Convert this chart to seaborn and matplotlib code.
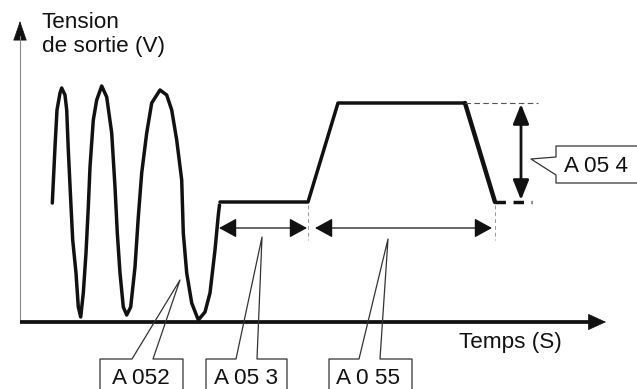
import matplotlib
matplotlib.use("Agg")
import matplotlib.pyplot as plt
import seaborn as sns
import pandas as pd
from matplotlib.patches import FancyArrowPatch

# ---- data (diagram coordinates, pixels, y downwards) ----
wave_x = [52.3, 55, 57, 60, 61.7, 65, 66.7, 68.3, 70.7, 72.7, 76, 78.3, 80.7,
          83.3, 86, 88.3, 90, 93.3, 96.7, 101.7, 106.7, 111.7, 115, 117.3, 120,
          123.3, 126.7, 130.7, 135, 138.3, 141.7, 146.7, 151.7, 160, 166.7,
          171.7, 176.7, 181.7, 183.3, 186.7, 191.7, 198.3, 205, 210, 215, 218.3, 219.5]
wave_y = [203, 147, 110, 93, 88, 95, 110, 150, 200, 240, 273, 307, 317,
          293, 253, 207, 167, 120, 100, 86, 97, 133, 187, 233, 273,
          307, 315, 307, 267, 217, 173, 133, 103, 90, 95,
          110, 140, 180, 233, 273, 303, 320, 312, 293, 250, 215, 205]
profile_x = [220, 308, 338, 465]
profile_y = [202, 202, 103, 103]
fall_x = [465, 495]
fall_y = [103, 202]

labels = ["A 052", "A 05 3", "A 0 55", "A 05 4"]
axis_y_label = ["Tension", "de sortie (V)"]
axis_x_label = "Temps (S)"

sns.set_theme(style="white")
plt.rcParams['font.family'] = ['Liberation Sans', 'DejaVu Sans']

fig = plt.figure(figsize=(6.37, 3.89), dpi=100)
ax = fig.add_axes([0, 0, 1, 1])
ax.set_xlim(0, 637)
ax.set_ylim(389, 0)
ax.axis('off')

K = '#111111'
G = '#333333'

# waveform
sns.lineplot(x=wave_x, y=wave_y, sort=False, estimator=None, color=K, lw=2.5, ax=ax)
sns.lineplot(x=profile_x, y=profile_y, sort=False, estimator=None, color=K, lw=2.5, ax=ax)
sns.lineplot(x=fall_x, y=fall_y, sort=False, estimator=None, color=K, lw=3.2, ax=ax)

# dashed extensions
ax.plot([465, 538], [103, 103], color='#555555', lw=0.8, ls=(0, (5, 3)))
ax.plot([495, 532], [202, 202], color=K, lw=2.5, ls=(0, (3.0, 2.2)))
ax.plot([308, 308], [205, 240], color='#999999', lw=0.7, ls=(0, (4, 3)))
ax.plot([495, 495], [205, 240], color='#999999', lw=0.7, ls=(0, (4, 3)))

# axes
ax.plot([20, 20], [322, 36], color='#888888', lw=0.8)
ax.add_patch(FancyArrowPatch((20, 40), (20, 21), arrowstyle='-|>,head_length=13,head_width=4.5',
                             mutation_scale=1, color=K, lw=0.5, shrinkA=0, shrinkB=0))
ax.plot([20, 592], [322, 322], color=K, lw=2.7, solid_capstyle='butt')
ax.add_patch(FancyArrowPatch((585, 322), (606, 322), arrowstyle='-|>,head_length=12,head_width=5.5',
                             mutation_scale=1, color=K, lw=0.5, shrinkA=0, shrinkB=0))

# double arrows
def darrow(p0, p1, lw, hl, hw):
    ax.add_patch(FancyArrowPatch(p0, p1, arrowstyle=f'<|-|>,head_length={hl},head_width={hw}',
                                 mutation_scale=1, color=K, lw=lw, shrinkA=0, shrinkB=0))

darrow((219, 228), (307, 228), 0.9, 11, 6)
darrow((315, 228), (492, 228), 0.9, 11, 6)
darrow((521, 104), (521, 200), 2.0, 12, 4.8)

# callouts
cl = dict(color=G, lw=0.9)
ax.plot([100, 100, 132, 180, 153, 183, 183], [395, 359, 359, 280, 359, 359, 395], **cl)
ax.plot([206, 206, 236, 262, 257, 287, 287], [395, 359, 359, 237, 359, 359, 395], **cl)
ax.plot([329, 329, 359, 388, 380, 412, 412], [395, 359, 359, 239, 359, 359, 395], **cl)
ax.plot([640, 556, 556, 531, 556, 556, 640], [146, 146, 157, 159, 175, 183, 183], **cl)

fs = 16.2
ax.text(141, 384, labels[0], fontsize=fs, ha='center', va='baseline', color=K)
ax.text(246, 384, labels[1], fontsize=fs, ha='center', va='baseline', color=K)
ax.text(368, 384, labels[2], fontsize=fs, ha='center', va='baseline', color=K)
ax.text(596, 172, labels[3], fontsize=fs, ha='center', va='baseline', color=K)

ax.text(42, 28, axis_y_label[0], fontsize=fs, ha='left', va='baseline', color=K)
ax.text(42, 52, axis_y_label[1], fontsize=fs, ha='left', va='baseline', color=K)
ax.text(510, 348, axis_x_label, fontsize=fs, ha='center', va='baseline', color=K)

fig.savefig('out.png', dpi=100)
